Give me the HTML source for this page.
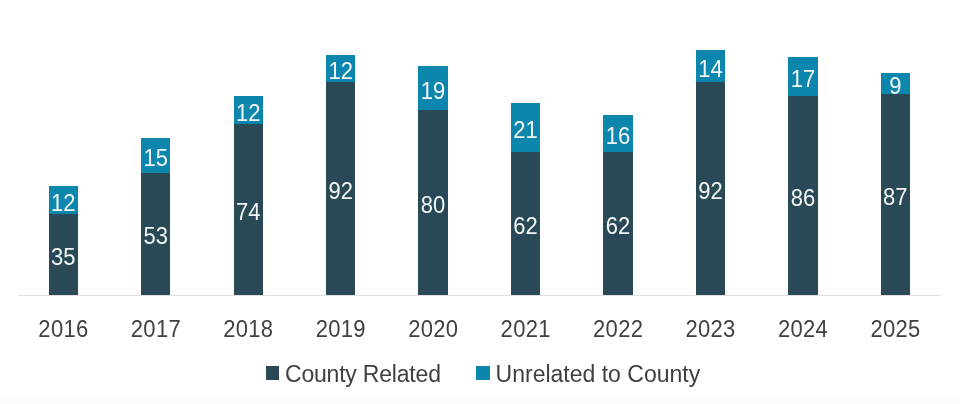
<!DOCTYPE html>
<html><head><meta charset="utf-8"><style>
html,body{margin:0;padding:0;}
body{width:960px;height:404px;position:relative;overflow:hidden;background:#fff;font-family:"Liberation Sans",sans-serif;}
.b{position:absolute;}
.l{position:absolute;width:60px;height:24px;line-height:24px;text-align:center;color:#f3f6f7;font-size:22px;letter-spacing:0px;text-indent:0px;transform:scaleY(1.12);}
.x{position:absolute;width:80px;height:26px;line-height:26px;text-align:center;color:#404040;font-size:22px;letter-spacing:0.3px;text-indent:0.3px;transform:scaleY(1.11);}
.axis{position:absolute;left:18px;top:294.5px;width:923px;height:1.2px;background:#e0e0e0;}
.leg{position:absolute;top:360.5px;height:26px;line-height:26px;color:#404040;font-size:23px;white-space:nowrap;}
.sw{position:absolute;width:13.5px;height:13.5px;}
.bot{position:absolute;left:0;top:396px;width:960px;height:8px;background:linear-gradient(#fefefe,#fafafa);}
</style></head><body>
<div id="w" style="position:absolute;left:0;top:0;width:960px;height:404px;filter:blur(0.4px)">
<div class="bot"></div>
<div class="axis"></div>
<div class="b" style="left:48.60px;top:186.43px;width:29.4px;height:27.72px;background:#0c86ac"></div>
<div class="b" style="left:48.60px;top:214.15px;width:29.4px;height:80.85px;background:#284955"></div>
<div class="l" style="left:33.30px;top:244.88px">35</div>
<div class="l" style="left:33.30px;top:190.59px">12</div>
<div class="x" style="left:23.30px;top:316px">2016</div>
<div class="b" style="left:141.05px;top:137.92px;width:29.4px;height:34.65px;background:#0c86ac"></div>
<div class="b" style="left:141.05px;top:172.57px;width:29.4px;height:122.43px;background:#284955"></div>
<div class="l" style="left:125.75px;top:224.09px">53</div>
<div class="l" style="left:125.75px;top:145.55px">15</div>
<div class="x" style="left:115.75px;top:316px">2017</div>
<div class="b" style="left:233.50px;top:96.34px;width:29.4px;height:27.72px;background:#0c86ac"></div>
<div class="b" style="left:233.50px;top:124.06px;width:29.4px;height:170.94px;background:#284955"></div>
<div class="l" style="left:218.20px;top:199.83px">74</div>
<div class="l" style="left:218.20px;top:100.50px">12</div>
<div class="x" style="left:208.20px;top:316px">2018</div>
<div class="b" style="left:325.95px;top:54.76px;width:29.4px;height:27.72px;background:#0c86ac"></div>
<div class="b" style="left:325.95px;top:82.48px;width:29.4px;height:212.52px;background:#284955"></div>
<div class="l" style="left:310.65px;top:179.04px">92</div>
<div class="l" style="left:310.65px;top:58.92px">12</div>
<div class="x" style="left:300.65px;top:316px">2019</div>
<div class="b" style="left:418.40px;top:66.31px;width:29.4px;height:43.89px;background:#0c86ac"></div>
<div class="b" style="left:418.40px;top:110.20px;width:29.4px;height:184.80px;background:#284955"></div>
<div class="l" style="left:403.10px;top:192.90px">80</div>
<div class="l" style="left:403.10px;top:78.55px">19</div>
<div class="x" style="left:393.10px;top:316px">2020</div>
<div class="b" style="left:510.85px;top:103.27px;width:29.4px;height:48.51px;background:#0c86ac"></div>
<div class="b" style="left:510.85px;top:151.78px;width:29.4px;height:143.22px;background:#284955"></div>
<div class="l" style="left:495.55px;top:213.69px">62</div>
<div class="l" style="left:495.55px;top:117.83px">21</div>
<div class="x" style="left:485.55px;top:316px">2021</div>
<div class="b" style="left:603.30px;top:114.82px;width:29.4px;height:36.96px;background:#0c86ac"></div>
<div class="b" style="left:603.30px;top:151.78px;width:29.4px;height:143.22px;background:#284955"></div>
<div class="l" style="left:588.00px;top:213.69px">62</div>
<div class="l" style="left:588.00px;top:123.60px">16</div>
<div class="x" style="left:578.00px;top:316px">2022</div>
<div class="b" style="left:695.75px;top:50.14px;width:29.4px;height:32.34px;background:#0c86ac"></div>
<div class="b" style="left:695.75px;top:82.48px;width:29.4px;height:212.52px;background:#284955"></div>
<div class="l" style="left:680.45px;top:179.04px">92</div>
<div class="l" style="left:680.45px;top:56.61px">14</div>
<div class="x" style="left:670.45px;top:316px">2023</div>
<div class="b" style="left:788.20px;top:57.07px;width:29.4px;height:39.27px;background:#0c86ac"></div>
<div class="b" style="left:788.20px;top:96.34px;width:29.4px;height:198.66px;background:#284955"></div>
<div class="l" style="left:772.90px;top:185.97px">86</div>
<div class="l" style="left:772.90px;top:67.00px">17</div>
<div class="x" style="left:762.90px;top:316px">2024</div>
<div class="b" style="left:880.65px;top:73.24px;width:29.4px;height:20.79px;background:#0c86ac"></div>
<div class="b" style="left:880.65px;top:94.03px;width:29.4px;height:200.97px;background:#284955"></div>
<div class="l" style="left:865.35px;top:184.81px">87</div>
<div class="l" style="left:865.35px;top:73.94px">9</div>
<div class="x" style="left:855.35px;top:316px">2025</div>
<div class="sw" style="left:265.8px;top:366.2px;background:#284955"></div>
<div class="leg" style="left:285px;letter-spacing:-0.2px">County Related</div>
<div class="sw" style="left:476.2px;top:366.3px;background:#0c86ac"></div>
<div class="leg" style="left:495.6px">Unrelated to County</div>
</div>
</body></html>
